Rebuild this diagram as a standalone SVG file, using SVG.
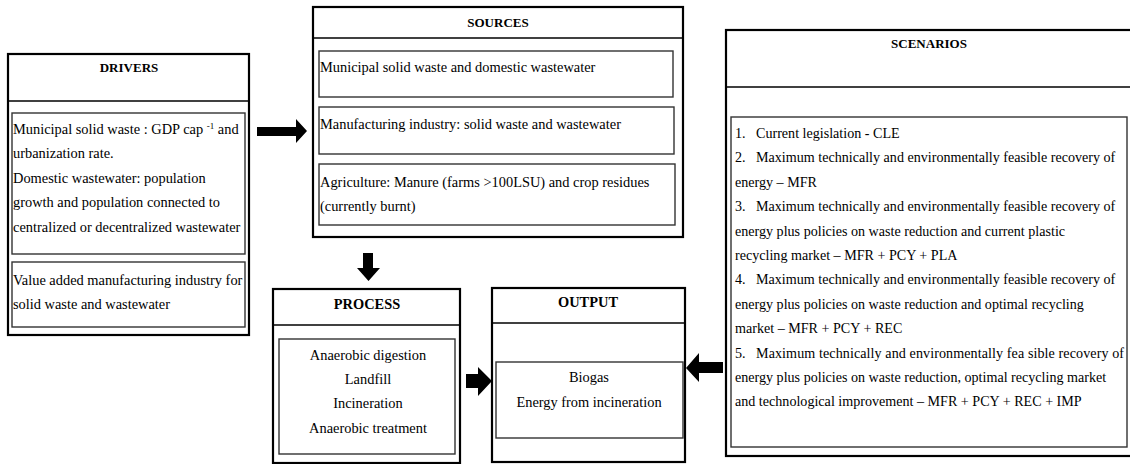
<svg xmlns="http://www.w3.org/2000/svg" width="1130" height="464" viewBox="0 0 1130 464">
<style>
.outer{fill:#fff;stroke:#000;stroke-width:2.2}
.hdr{stroke:#000;stroke-width:1.4}
.inner{fill:none;stroke:#333;stroke-width:1.4}
.t{font-family:"Liberation Serif","Times New Roman",serif;font-size:14.4px;fill:#000}
.s{font-size:14.1px}
.c{text-anchor:middle}
.h{font-family:"Liberation Serif","Times New Roman",serif;font-weight:bold;fill:#000;text-anchor:middle}
.arr{fill:#000}
</style>
<rect width="1130" height="464" fill="#fff"/>
<g id="drivers">
<rect class="outer" x="8" y="54" width="241" height="281"/>
<line class="hdr" x1="8" y1="101" x2="249" y2="101"/>
<text class="h" x="129" y="72" font-size="13">DRIVERS</text>
<rect class="inner" x="12" y="113" width="233" height="141"/>
<text class="t" x="13" y="134">Municipal solid waste : GDP cap <tspan font-size="9" dy="-5">-1</tspan><tspan dy="5"> and</tspan></text>
<text class="t" x="13" y="158">urbanization rate.</text>
<text class="t" x="13" y="183">Domestic wastewater: population</text>
<text class="t" x="13" y="207">growth and population connected to</text>
<text class="t" x="13" y="232">centralized or decentralized wastewater</text>
<rect class="inner" x="12" y="262" width="233" height="65"/>
<text class="t" x="13" y="285">Value added manufacturing industry for</text>
<text class="t" x="13" y="309">solid waste and wastewater</text>
</g>
<g id="sources">
<rect class="outer" x="313" y="7" width="370" height="230"/>
<line class="hdr" x1="313" y1="38" x2="683" y2="38"/>
<text class="h" x="498" y="27" font-size="13">SOURCES</text>
<rect class="inner" x="319" y="51" width="354" height="46"/>
<text class="t" x="320" y="72">Municipal solid waste and domestic wastewater</text>
<rect class="inner" x="319" y="107" width="355" height="47"/>
<text class="t" x="320" y="129">Manufacturing industry: solid waste and wastewater</text>
<rect class="inner" x="319" y="164" width="356" height="61"/>
<text class="t" x="320" y="187">Agriculture: Manure (farms &gt;100LSU) and crop residues</text>
<text class="t" x="320" y="211">(currently burnt)</text>
</g>
<g id="process">
<rect class="outer" x="273" y="289" width="187" height="174"/>
<line class="hdr" x1="273" y1="325" x2="460" y2="325"/>
<text class="h" x="367" y="309" font-size="14.4">PROCESS</text>
<rect class="inner" x="279" y="339" width="176" height="115"/>
<text class="t c" x="368" y="360">Anaerobic digestion</text>
<text class="t c" x="368" y="384">Landfill</text>
<text class="t c" x="368" y="408">Incineration</text>
<text class="t c" x="368" y="433">Anaerobic treatment</text>
</g>
<g id="output">
<rect class="outer" x="492" y="288" width="193" height="174"/>
<line class="hdr" x1="492" y1="323" x2="685" y2="323"/>
<text class="h" x="588" y="307" font-size="14.4">OUTPUT</text>
<rect class="inner" x="496" y="362" width="187" height="76"/>
<text class="t c" x="589" y="382">Biogas</text>
<text class="t c" x="589" y="407">Energy from incineration</text>
</g>
<g id="scenarios">
<rect class="outer" x="726" y="30" width="410" height="426"/>
<line class="hdr" x1="726" y1="87" x2="1130" y2="87"/>
<text class="h" x="929" y="48" font-size="13">SCENARIOS</text>
<rect class="inner" x="731" y="117" width="396" height="330"/>
<text class="t s" x="735" y="138">1.<tspan x="756">Current legislation  - CLE</tspan></text>
<text class="t s" x="735" y="162">2.<tspan x="756">Maximum technically and environmentally feasible recovery of</tspan></text>
<text class="t s" x="735" y="187">energy – MFR</text>
<text class="t s" x="735" y="211">3.<tspan x="756">Maximum technically and environmentally feasible recovery of</tspan></text>
<text class="t s" x="735" y="236">energy plus policies on waste reduction and current plastic</text>
<text class="t s" x="735" y="260">recycling market – MFR + PCY + PLA</text>
<text class="t s" x="735" y="284">4.<tspan x="756">Maximum technically and environmentally feasible recovery of</tspan></text>
<text class="t s" x="735" y="309">energy plus policies on waste reduction and optimal recycling</text>
<text class="t s" x="735" y="333">market – MFR + PCY + REC</text>
<text class="t s" x="735" y="358">5.<tspan x="756" textLength="368" lengthAdjust="spacing">Maximum technically and environmentally fea sible recovery of</tspan></text>
<text class="t s" x="735" y="382">energy plus policies on waste reduction, optimal recycling market</text>
<text class="t s" x="735" y="406">and technological improvement – MFR + PCY + REC + IMP</text>
</g>
<g id="connectors">
<polygon class="arr" points="257,127 296,127 296,119 307,131 296,143 296,136 257,136"/>
<polygon class="arr" points="363,253 373,253 373,268 380,268 368.5,281 357,268 363,268"/>
<polygon class="arr" points="466,374 478,374 478,367 492,381 478,396 478,388 466,388"/>
<polygon class="arr" points="686,368 699,353 699,362 723,362 723,373 699,373 699,382"/>
</g>
</svg>
